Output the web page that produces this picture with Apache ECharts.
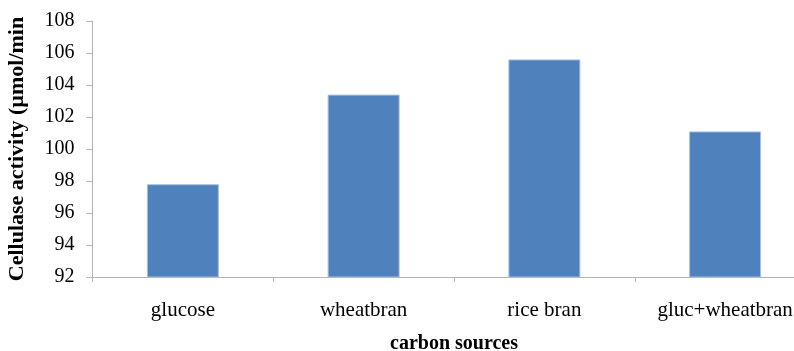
<!DOCTYPE html>
<html>
<head>
<meta charset="utf-8">
<script src="https://cdn.jsdelivr.net/npm/echarts@6/dist/echarts.min.js"></script>
<style>html,body{margin:0;padding:0;background:#fff}#c{width:794px;height:351px}</style>
</head>
<body>
<div id="c"></div>
<script>
var categories = ['glucose', 'wheatbran', 'rice bran', 'gluc+wheatbran'];
var activity = [97.8, 103.4, 105.6, 101.1];
var yTicks = { min: 92, max: 108, interval: 2 };
var yTitle = 'Cellulase activity (\u00b5mol/min';
var xTitle = 'carbon sources';

var chart = echarts.init(document.getElementById('c'));
var font = '"Liberation Serif", "Times New Roman", serif';
chart.setOption({
  animation: false,
  grid: { left: 92.5, right: -21.5, top: 21, bottom: 74, outerBoundsMode: 'none', containLabel: false },
  xAxis: {
    type: 'category',
    data: categories,
    name: xTitle,
    nameLocation: 'middle',
    nameGap: 57,
    nameTextStyle: { fontFamily: font, fontSize: 20, fontWeight: 'bold', color: '#000' },
    axisLine: { lineStyle: { color: '#b3b3b3', width: 1 } },
    axisTick: { show: true, length: 5, alignWithLabel: false, lineStyle: { color: '#b3b3b3' } },
    axisLabel: { fontFamily: font, fontSize: 21, color: '#000', margin: 23, interval: 0 }
  },
  yAxis: {
    type: 'value',
    min: yTicks.min,
    max: yTicks.max,
    interval: yTicks.interval,
    name: yTitle,
    nameLocation: 'middle',
    nameRotate: 90,
    nameGap: 64,
    nameTextStyle: { fontFamily: font, fontSize: 22, fontWeight: 'bold', color: '#000' },
    axisLine: { show: true, lineStyle: { color: '#b3b3b3', width: 1 } },
    axisTick: { show: true, length: 6, lineStyle: { color: '#b3b3b3' } },
    axisLabel: { fontFamily: font, fontSize: 20, color: '#000', margin: 18 },
    splitLine: { show: false }
  },
  series: [{
    type: 'bar',
    data: activity,
    barWidth: 72,
    itemStyle: { color: '#4f81bd', borderColor: '#a9c1e0', borderWidth: 1 }
  }]
});
</script>
</body>
</html>
